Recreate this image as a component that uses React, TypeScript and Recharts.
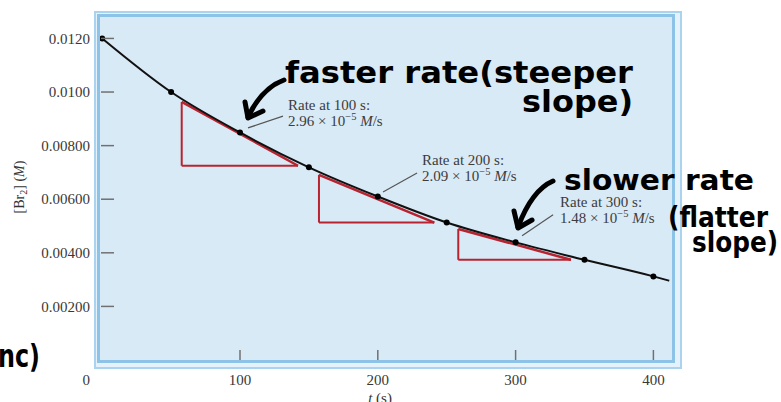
import React from "react";
import { LineChart, Line, XAxis, YAxis, ReferenceLine } from "recharts";

// ---- data ----
const times = [0, 50, 100, 150, 200, 250, 300, 350, 400];
const br2 = [0.012, 0.01, 0.00849, 0.00719, 0.0061, 0.00513, 0.00439, 0.00374, 0.00312];
const curveEndT = 411.5;
const curveEndC = 0.00296;

const xTicks = [0, 100, 200, 300, 400];
const yTicks = [0.002, 0.004, 0.006, 0.008, 0.01, 0.012];
const yTickLabels = ["0.00200", "0.00400", "0.00600", "0.00800", "0.0100", "0.0120"];

// tangent triangles: [top-left, bottom-left, bottom-right]
const tri100 = [
  { x: 57.7, y: 0.00963 },
  { x: 57.7, y: 0.00725 },
  { x: 142.1, y: 0.00725 },
];
const tri200 = [
  { x: 157.3, y: 0.00691 },
  { x: 157.3, y: 0.00513 },
  { x: 241.0, y: 0.00513 },
];
const tri300 = [
  { x: 258.4, y: 0.00489 },
  { x: 258.4, y: 0.00374 },
  { x: 340.2, y: 0.00374 },
];
const triangles = [tri100, tri200, tri300];

// leader lines from the curve to the rate labels
const leaders = [
  [{ x: 105.8, y: 0.00866 }, { x: 131.2, y: 0.0091 }],
  [{ x: 203.8, y: 0.00627 }, { x: 228.5, y: 0.00698 }],
  [{ x: 304.7, y: 0.00464 }, { x: 327.2, y: 0.00542 }],
];

const rateLabels = ["Rate at 100 s:", "Rate at 200 s:", "Rate at 300 s:"];
const rateValues = ["2.96", "2.09", "1.48"];

const chartData = [
  ...times.map((t, i) => ({ t, c: br2[i], dot: true })),
  { t: curveEndT, c: curveEndC, dot: false },
];

const RED = "#b8232f";
const SERIF = "'Liberation Serif', 'Times New Roman', serif";
const HAND = "'DejaVu Sans', sans-serif";

const YTick = (props: any) => {
  const { x, y, payload } = props;
  const idx = yTicks.indexOf(payload.value);
  return (
    <g>
      <line x1={x + 11} x2={x + 24} y1={y} y2={y} stroke="#707070" strokeWidth={1.5} />
      <text x={x} y={y} dy="0.35em" textAnchor="end" fontFamily={SERIF} fontSize={15} fill="#383838">
        {idx >= 0 ? yTickLabels[idx] : ""}
      </text>
    </g>
  );
};

const XTick = (props: any) => {
  const { x, y, payload } = props;
  const isZero = payload.value === 0;
  return (
    <g>
      {!isZero && (
        <line x1={x} x2={x} y1={y - 24} y2={y - 14} stroke="#707070" strokeWidth={1.5} />
      )}
      <text x={isZero ? x - 16 : x} y={y} dy="0.71em" textAnchor="middle" fontFamily={SERIF} fontSize={15} fill="#383838">
        {payload.value}
      </text>
    </g>
  );
};

const Dot = (props: any) => {
  const { cx, cy, payload } = props;
  if (!payload || !payload.dot) return null;
  return <circle cx={cx} cy={cy} r={3} fill="#000" />;
};

const rateTextPos = [
  { x: 288, y: 110 },
  { x: 422, y: 165 },
  { x: 560, y: 207 },
];

export default function App() {
  return (
    <div style={{ position: "absolute", left: 0, top: 0, width: 781, height: 402, background: "#fff", overflow: "hidden" }}>
      {/* plot frame */}
      <div
        style={{
          position: "absolute",
          left: 94,
          top: 11,
          width: 588,
          height: 358,
          boxSizing: "border-box",
          border: "2px solid #a9d3ef",
          background: "#e6f2fb",
        }}
      />
      <div
        style={{
          position: "absolute",
          left: 97,
          top: 14,
          width: 578,
          height: 349,
          boxSizing: "border-box",
          border: "3px solid #8cc3e6",
          background: "#d9eaf7",
        }}
      />
      <div style={{ position: "absolute", left: 0, top: 0 }}>
        <LineChart
          width={781}
          height={402}
          data={chartData}
          margin={{ top: 17, right: 109, bottom: 12, left: 40 }}
        >
          <XAxis
            dataKey="t"
            type="number"
            domain={[-1.6, 413.5]}
            ticks={xTicks}
            tickSize={0}
            tickMargin={14}
            axisLine={false}
            tick={<XTick />}
            height={30}
            allowDataOverflow
          />
          <YAxis
            type="number"
            domain={[0, 0.0128]}
            ticks={yTicks}
            tickSize={0}
            tickMargin={10}
            axisLine={false}
            tick={<YTick />}
            width={60}
            allowDataOverflow
          />
          {triangles.map((tri, i) => (
            <React.Fragment key={"tri" + i}>
              <ReferenceLine segment={[tri[0], tri[1]]} stroke={RED} strokeWidth={2} ifOverflow="visible" />
              <ReferenceLine segment={[tri[1], tri[2]]} stroke={RED} strokeWidth={2} ifOverflow="visible" />
              <ReferenceLine segment={[tri[0], tri[2]]} stroke={RED} strokeWidth={2.5} ifOverflow="visible" />
            </React.Fragment>
          ))}
          {leaders.map((seg, i) => (
            <ReferenceLine key={"ld" + i} segment={seg} stroke="#555" strokeWidth={1.2} ifOverflow="visible" />
          ))}
          <Line
            dataKey="c"
            type="monotone"
            stroke="#111"
            strokeWidth={2}
            dot={<Dot />}
            activeDot={false}
            isAnimationActive={false}
          />
        </LineChart>
      </div>
      <svg width={781} height={402} style={{ position: "absolute", left: 0, top: 0, pointerEvents: "none" }}>
        {/* rate labels */}
        {rateTextPos.map((p, i) => (
          <g key={"rt" + i} fontFamily={SERIF} fontSize={15} fill="#3c3c3c">
            <text x={p.x} y={p.y}>{rateLabels[i]}</text>
            <text x={p.x} y={p.y + 16}>
              {rateValues[i]} × 10
              <tspan dy={-6} fontSize={10.5}>−5</tspan>
              <tspan dy={6}> </tspan>
              <tspan fontStyle="italic">M</tspan>/s
            </text>
          </g>
        ))}
        {/* axis titles */}
        <text
          x={19}
          y={187}
          transform="rotate(-90 19 187)"
          textAnchor="middle"
          dy="0.35em"
          fontFamily={SERIF}
          fontSize={14}
          fill="#333"
        >
          [Br<tspan fontSize={10} dy={3}>2</tspan>
          <tspan dy={-3}>] (</tspan>
          <tspan fontStyle="italic">M</tspan>)
        </text>
        <text x={380} y={403} textAnchor="middle" fontFamily={SERIF} fontSize={15} fill="#333">
          <tspan fontStyle="italic">t</tspan> (s)
        </text>
        {/* handwritten notes */}
        <g fontFamily={HAND} fontWeight="bold" fill="#000">
          <text x={285} y={83} fontSize={30} textLength={348} lengthAdjust="spacingAndGlyphs">
            faster rate(steeper
          </text>
          <text x={522} y={112} fontSize={30} textLength={111} lengthAdjust="spacingAndGlyphs">
            slope)
          </text>
          <text x={564} y={190} fontSize={28} textLength={190} lengthAdjust="spacingAndGlyphs">
            slower rate
          </text>
          <text x={668} y={227} fontSize={28} textLength={100} lengthAdjust="spacingAndGlyphs">
            (flatter
          </text>
          <text x={692} y={252} fontSize={28} textLength={86} lengthAdjust="spacingAndGlyphs">
            slope)
          </text>
          <text x={-2} y={367} fontSize={32} textLength={42} lengthAdjust="spacingAndGlyphs">
            nc)
          </text>
        </g>
        {/* arrows */}
        <g stroke="#000" strokeWidth={5} fill="none" strokeLinecap="round" strokeLinejoin="round">
          <path d="M 284 80 Q 262 88 248 117" />
          <path d="M 245 102 L 248 118 L 263 111" />
          <path d="M 553 181 Q 532 190 518 227" />
          <path d="M 514 211 L 518 228 L 532 220" />
        </g>
      </svg>
    </div>
  );
}
